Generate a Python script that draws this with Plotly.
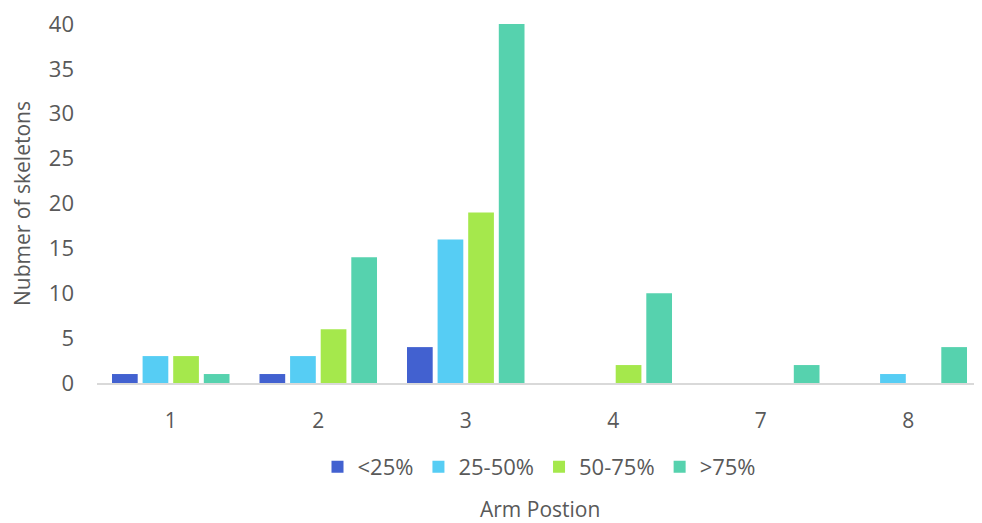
import plotly.graph_objects as go

categories = ["1", "2", "3", "4", "7", "8"]
series_names = ["<25%", "25-50%", "50-75%", ">75%"]
lt25 = [1, 1, 4, 0, 0, 0]
p25_50 = [3, 3, 16, 0, 0, 1]
p50_75 = [3, 6, 19, 2, 0, 0]
gt75 = [1, 14, 40, 10, 2, 4]
y_ticks = [0, 5, 10, 15, 20, 25, 30, 35, 40]
colors = ["#4261d0", "#56cdf4", "#a5e84c", "#56d2ae"]

fig = go.Figure()
for name, vals, c in zip(series_names, [lt25, p25_50, p50_75, gt75], colors):
    fig.add_trace(go.Bar(x=categories, y=vals, name=name,
                         marker=dict(color=c, line=dict(width=0))))

font_col = "#595959"
OFF = 8  # page body margin
W, H = 982 - OFF, 523 - OFF
plot_top, plot_bottom = 24 - OFF, 383 - OFF
ph = plot_bottom - plot_top
fig.update_layout(
    width=W, height=H,
    margin=dict(l=97 - OFF, r=0, t=plot_top, b=H - plot_bottom, autoexpand=False),
    paper_bgcolor="white", plot_bgcolor="white",
    barmode="group", bargap=0.17, bargroupgap=0.16,
    font=dict(family="Open Sans, DejaVu Sans, sans-serif", color=font_col, size=22),
    showlegend=True,
    legend=dict(orientation="h", x=0.5, xanchor="center", y=(plot_bottom - (467 - OFF)) / ph, yanchor="middle",
                font=dict(size=22, color=font_col), itemwidth=30, traceorder="normal"),
    xaxis=dict(type="category", showgrid=False, showline=True, linecolor="#d9d9d9",
               linewidth=2, ticks="", ticklabelstandoff=18, automargin=False,
               tickfont=dict(size=21, color=font_col)),
    yaxis=dict(range=[0, 40], tickmode="array", tickvals=y_ticks,
               showgrid=False, zeroline=False, showline=False,
               ticks="", ticklabelstandoff=22, automargin=False, ticklabeloverflow="allow",
               tickfont=dict(size=22, color=font_col),
               title=dict(text="Nubmer of skeletons", font=dict(size=21, color=font_col), standoff=12)),
    annotations=[dict(text="Arm Postion", x=0.5, xref="paper", y=(plot_bottom - (509 - OFF)) / ph, yref="paper",
                      yanchor="middle", showarrow=False, font=dict(size=21, color=font_col))],
)

fig.write_html("out.html")
